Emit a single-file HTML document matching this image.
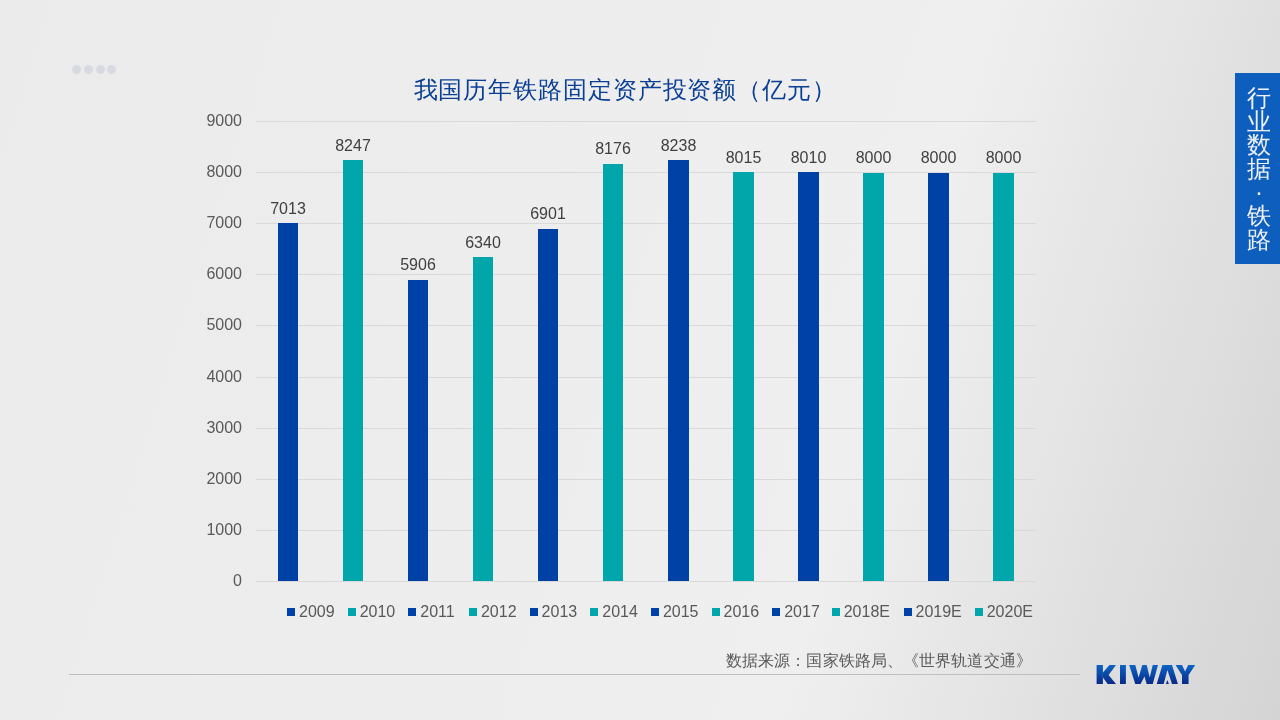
<!DOCTYPE html>
<html><head><meta charset="utf-8"><style>
html,body{margin:0;padding:0}
*{text-spacing-trim:space-all}
.t{will-change:transform}
body{width:1280px;height:720px;position:relative;overflow:hidden;font-family:"Liberation Sans",sans-serif;
background:linear-gradient(107deg,#EBEBEB 0%,#EDEDED 35%,#EFEFEF 66.7%,#D4D4D4 100%)}
.dot{position:absolute;width:9px;height:9px;border-radius:50%;background:#D7DBE1;top:65px}
.title{position:absolute;left:413.6px;top:76.4px;font-size:24px;line-height:28px;letter-spacing:0.9px;color:#0B3F94;white-space:nowrap}
.grid{position:absolute;left:256px;width:780px;height:1px;background:#D9D9D9}
.yl{position:absolute;left:179.5px;width:62.5px;text-align:right;font-size:16px;line-height:18px;color:#595959}
.bar{position:absolute}
.dl{position:absolute;width:100px;margin-left:-10px;text-align:center;font-size:16px;line-height:18px;color:#404040}
.lsq{position:absolute;top:608px;width:8px;height:8px}
.lt{position:absolute;top:603px;font-size:16px;line-height:18px;color:#595959;white-space:nowrap}
.src{position:absolute;left:726px;top:651px;letter-spacing:0.1px;font-size:16px;line-height:20px;color:#595959;white-space:nowrap}
.hr{position:absolute;left:69px;top:674px;width:1011px;height:1px;background:#BFBFBF}
.tab{position:absolute;left:1235px;top:73px;width:45px;height:191px;background:#0E5EBE}
.tabt{position:absolute;left:1247px;top:86.3px;width:24px;font-size:24px;line-height:23.6px;color:#EDF0F5;text-align:center}
</style></head><body>
<div id="root" style="position:absolute;left:0;top:0;width:1280px;height:720px;will-change:transform">
<div class="dot" style="left:72px"></div><div class="dot" style="left:84px"></div><div class="dot" style="left:95.5px"></div><div class="dot" style="left:107px"></div>
<div class="title">我国历年铁路固定资产投资额（亿元）</div>
<div class="grid" style="top:121px"></div><div class="grid" style="top:172px"></div><div class="grid" style="top:223px"></div><div class="grid" style="top:274px"></div><div class="grid" style="top:325px"></div><div class="grid" style="top:377px"></div><div class="grid" style="top:428px"></div><div class="grid" style="top:479px"></div><div class="grid" style="top:530px"></div><div class="grid" style="top:581px"></div>
<div class="yl" style="top:112.00px">9000</div><div class="yl" style="top:163.11px">8000</div><div class="yl" style="top:214.22px">7000</div><div class="yl" style="top:265.33px">6000</div><div class="yl" style="top:316.44px">5000</div><div class="yl" style="top:367.55px">4000</div><div class="yl" style="top:418.66px">3000</div><div class="yl" style="top:469.77px">2000</div><div class="yl" style="top:520.88px">1000</div><div class="yl" style="top:571.99px">0</div>
<div class="bar" style="left:278px;width:20px;top:223px;height:358px;background:#0041A6"></div><div class="bar" style="left:343px;width:20px;top:160px;height:421px;background:#00A6A9"></div><div class="bar" style="left:408px;width:20px;top:280px;height:301px;background:#0041A6"></div><div class="bar" style="left:473px;width:20px;top:257px;height:324px;background:#00A6A9"></div><div class="bar" style="left:538px;width:20px;top:229px;height:352px;background:#0041A6"></div><div class="bar" style="left:603px;width:20px;top:164px;height:417px;background:#00A6A9"></div><div class="bar" style="left:668px;width:21px;top:160px;height:421px;background:#0041A6"></div><div class="bar" style="left:733px;width:21px;top:172px;height:409px;background:#00A6A9"></div><div class="bar" style="left:798px;width:21px;top:172px;height:409px;background:#0041A6"></div><div class="bar" style="left:863px;width:21px;top:173px;height:408px;background:#00A6A9"></div><div class="bar" style="left:928px;width:21px;top:173px;height:408px;background:#0041A6"></div><div class="bar" style="left:993px;width:21px;top:173px;height:408px;background:#00A6A9"></div>
<div class="dl" style="left:248.0px;top:199.80px">7013</div><div class="dl" style="left:313.0px;top:137.00px">8247</div><div class="dl" style="left:378.0px;top:255.70px">5906</div><div class="dl" style="left:443.0px;top:233.85px">6340</div><div class="dl" style="left:508.0px;top:205.40px">6901</div><div class="dl" style="left:573.0px;top:139.60px">8176</div><div class="dl" style="left:638.5px;top:136.70px">8238</div><div class="dl" style="left:703.5px;top:148.85px">8015</div><div class="dl" style="left:768.5px;top:148.85px">8010</div><div class="dl" style="left:833.5px;top:148.85px">8000</div><div class="dl" style="left:898.5px;top:148.85px">8000</div><div class="dl" style="left:963.5px;top:148.85px">8000</div>
<div class="lsq" style="left:287px;background:#0041A6"></div><div class="lt" style="left:299.00px">2009</div><div class="lsq" style="left:348px;background:#00A6A9"></div><div class="lt" style="left:359.65px">2010</div><div class="lsq" style="left:408px;background:#0041A6"></div><div class="lt" style="left:420.30px">2011</div><div class="lsq" style="left:469px;background:#00A6A9"></div><div class="lt" style="left:480.95px">2012</div><div class="lsq" style="left:530px;background:#0041A6"></div><div class="lt" style="left:541.60px">2013</div><div class="lsq" style="left:590px;background:#00A6A9"></div><div class="lt" style="left:602.25px">2014</div><div class="lsq" style="left:651px;background:#0041A6"></div><div class="lt" style="left:662.90px">2015</div><div class="lsq" style="left:712px;background:#00A6A9"></div><div class="lt" style="left:723.55px">2016</div><div class="lsq" style="left:772px;background:#0041A6"></div><div class="lt" style="left:784.20px">2017</div><div class="lsq" style="left:832px;background:#00A6A9"></div><div class="lt" style="left:843.70px">2018E</div><div class="lsq" style="left:904px;background:#0041A6"></div><div class="lt" style="left:915.50px">2019E</div><div class="lsq" style="left:975px;background:#00A6A9"></div><div class="lt" style="left:986.70px">2020E</div>
<div class="src">数据来源：国家铁路局、《世界轨道交通》</div>
<div class="hr"></div>
<div class="tab"></div>
<div class="tabt">行<br>业<br>数<br>据<br><span style="position:relative;top:-1px">·</span><br>铁<br>路</div>
<svg style="position:absolute;left:0;top:0" width="1280" height="720" viewBox="0 0 1280 720">
<defs><linearGradient id="lg" x1="0" y1="665" x2="0" y2="684" gradientUnits="userSpaceOnUse"><stop offset="0" stop-color="#0C64C4"/><stop offset="1" stop-color="#092A88"/></linearGradient></defs>
<g fill="url(#lg)">
<path d="M1096.6 665H1102.9V684H1096.6Z"/>
<path d="M1102.9 672.5L1109.5 665H1116L1108.6 674.9L1116 684H1107.7L1102.9 677.5Z"/>
<path d="M1120 665H1125.9V684H1120Z"/>
<path d="M1129.2 665H1135.25L1138.6 677.5L1142.3 665H1146.7L1149.7 677.5L1152.75 665H1158L1152.75 684H1146.7L1144.5 676.5L1140.5 684H1135.25Z"/>
<path d="M1156.7 684L1162.4 665H1172L1177.9 684H1172L1167.4 670L1163.7 684Z"/>
<path d="M1165.9 684L1167.4 680L1168.9 684Z"/>
<path d="M1175.5 665H1182L1185.1 671.5L1188.2 665H1195.2L1188.6 675V684H1182V675Z"/>
</g></svg>
</div>
</body></html>
